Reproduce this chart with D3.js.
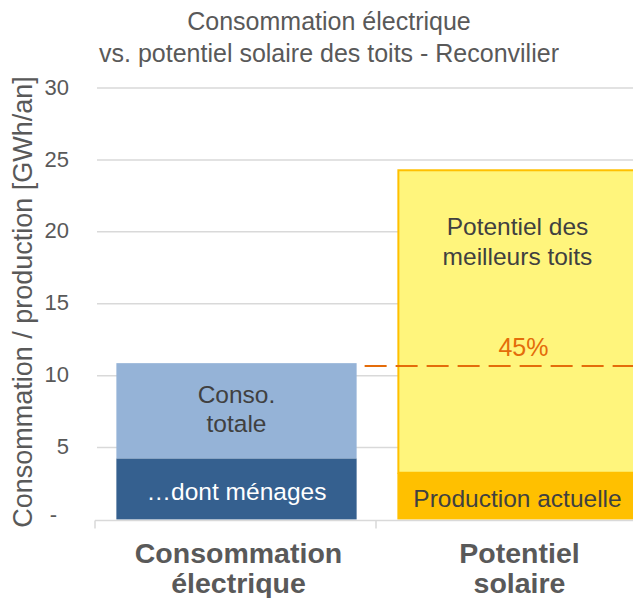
<!DOCTYPE html>
<html>
<head>
<meta charset="utf-8">
<script src="https://cdn.jsdelivr.net/npm/d3@7"></script>
<style>
  body { margin: 0; background: #fff; }
  svg { font-family: "Liberation Sans", Arial, sans-serif; }
</style>
</head>
<body>
<svg id="chart"></svg>
<script>
// categories and values (GWh/an)
const categories = ['Consommation électrique', 'Potentiel solaire'];
const categoryLines = [['Consommation', 'électrique'], ['Potentiel', 'solaire']];
const lowerValues = [4.25, 3.25];    // ménages / production actuelle
const totalValues = [10.87, 24.35];  // conso totale / potentiel des meilleurs toits
const lowerLabels = [['…dont ménages'], ['Production actuelle']];
const upperLabels = [['Conso.', 'totale'], ['Potentiel des', 'meilleurs toits']];
const shareValue = 10.68;
const shareLabel = '45%';
const yTicks = [0, 5, 10, 15, 20, 25, 30];
const titleLines = ['Consommation électrique', 'vs. potentiel solaire des toits - Reconvilier'];

const width = 633, height = 598;
const margin = { top: 88, left: 95, bottom: 78.5 };

const svg = d3.select('#chart').attr('width', width).attr('height', height);

const x = d3.scaleBand()
  .domain(categories)
  .range([margin.left, 657])
  .padding(0);
const barW = x.bandwidth() * 0.855;
const barX = (d) => x(d) + (x.bandwidth() - barW) / 2 + 1;

const y = d3.scaleLinear()
  .domain([0, 30])
  .range([height - margin.bottom, margin.top]);

// title
svg.append('text')
  .attr('x', 329)
  .attr('y', 30)
  .attr('text-anchor', 'middle')
  .style('font-size', '25px')
  .attr('fill', '#595959')
  .selectAll('tspan')
  .data(titleLines)
  .join('tspan')
  .attr('x', 329)
  .attr('dy', (d, i) => i === 0 ? 0 : 32)
  .text((d) => d);

// gridlines
svg.append('g')
  .selectAll('line')
  .data(yTicks.filter((d) => d > 0))
  .join('line')
  .attr('x1', 97)
  .attr('x2', width)
  .attr('y1', (d) => y(d))
  .attr('y2', (d) => y(d))
  .attr('stroke', '#d9d9d9')
  .attr('stroke-width', 1.5);

// y tick labels
svg.append('g')
  .selectAll('text')
  .data(yTicks)
  .join('text')
  .attr('x', (d) => d === 0 ? 57 : 69)
  .attr('y', (d) => y(d))
  .attr('dy', (d) => d === 0 ? '0.1em' : '0.3em')
  .attr('text-anchor', 'end')
  .style('font-size', '22px')
  .attr('fill', '#595959')
  .text((d) => d === 0 ? '-' : d);

// y axis title
svg.append('text')
  .attr('transform', `translate(32,${302}) rotate(-90)`)
  .attr('text-anchor', 'middle')
  .style('font-size', '27px')
  .attr('fill', '#595959')
  .text('Consommation / production [GWh/an]');

// lower segments
const lowerColors = ['#35608f', '#ffc000'];
const upperColors = ['#95b3d7', '#fff57c'];

svg.append('g')
  .selectAll('rect')
  .data(categories)
  .join('rect')
  .attr('x', (d) => barX(d))
  .attr('width', barW)
  .attr('y', (d, i) => y(lowerValues[i]))
  .attr('height', (d, i) => y(0) - y(lowerValues[i]))
  .attr('fill', (d, i) => lowerColors[i]);

// upper segments
svg.append('g')
  .selectAll('rect')
  .data(categories)
  .join('rect')
  .attr('x', (d, i) => barX(d) + (i === 1 ? 1 : 0))
  .attr('width', (d, i) => barW - (i === 1 ? 1 : 0))
  .attr('y', (d, i) => y(totalValues[i]) + (i === 1 ? 1 : 0))
  .attr('height', (d, i) => y(lowerValues[i]) - y(totalValues[i]) - (i === 1 ? 1 : 0))
  .attr('fill', (d, i) => upperColors[i])
  .attr('stroke', (d, i) => i === 1 ? '#ffc000' : 'none')
  .attr('stroke-width', 2);

// baseline and category ticks
svg.append('line')
  .attr('x1', margin.left)
  .attr('x2', width)
  .attr('y1', y(0) + 1)
  .attr('y2', y(0) + 1)
  .attr('stroke', '#d9d9d9')
  .attr('stroke-width', 1.5);

svg.append('g')
  .selectAll('line')
  .data(categories)
  .join('line')
  .attr('x1', (d) => x(d))
  .attr('x2', (d) => x(d))
  .attr('y1', y(0) + 1)
  .attr('y2', y(0) + 9)
  .attr('stroke', '#d9d9d9')
  .attr('stroke-width', 1.5);

// 45% dashed line
const bar1End = barX(categories[0]) + barW;
svg.append('line')
  .attr('x1', bar1End + 8)
  .attr('x2', width)
  .attr('y1', y(shareValue))
  .attr('y2', y(shareValue))
  .attr('stroke', '#e46c0a')
  .attr('stroke-width', 2)
  .attr('stroke-dasharray', '22,9');

svg.append('text')
  .attr('x', barX(categories[1]) + barW / 2 + 6)
  .attr('y', y(shareValue) - 10)
  .attr('text-anchor', 'middle')
  .style('font-size', '25px')
  .attr('fill', '#e46c0a')
  .text(shareLabel);

// segment labels
function lineBlock(g, lines, cx, cy, color) {
  const lh = 29.5;
  g.append('text')
    .attr('text-anchor', 'middle')
    .style('font-size', '24.5px')
    .attr('fill', color)
    .selectAll('tspan')
    .data(lines)
    .join('tspan')
    .attr('x', cx)
    .attr('y', (d, i) => cy + (i - (lines.length - 1) / 2) * lh)
    .attr('dy', '0.35em')
    .text((d) => d);
}

const labels = svg.append('g');
categories.forEach((c, i) => {
  const cx = barX(c) + barW / 2;
  lineBlock(labels, lowerLabels[i], cx, y(lowerValues[i] / 2) + 2,
    i === 0 ? '#ffffff' : '#404040');
  const upperCy = i === 0
    ? y((lowerValues[i] + totalValues[i]) / 2) - 2
    : y(totalValues[i]) + 72;
  lineBlock(labels, upperLabels[i], cx, upperCy, '#404040');
});

// category labels
svg.append('g')
  .selectAll('text')
  .data(categories)
  .join('text')
  .attr('text-anchor', 'middle')
  .style('font-size', '28.5px')
  .style('font-weight', 'bold')
  .attr('fill', '#595959')
  .each(function (d, i) {
    d3.select(this)
      .selectAll('tspan')
      .data(categoryLines[i])
      .join('tspan')
      .attr('x', x(d) + x.bandwidth() / 2 + 3)
      .attr('y', (t, j) => 563 + j * 30)
      .text((t) => t);
  });
</script>
</body>
</html>
